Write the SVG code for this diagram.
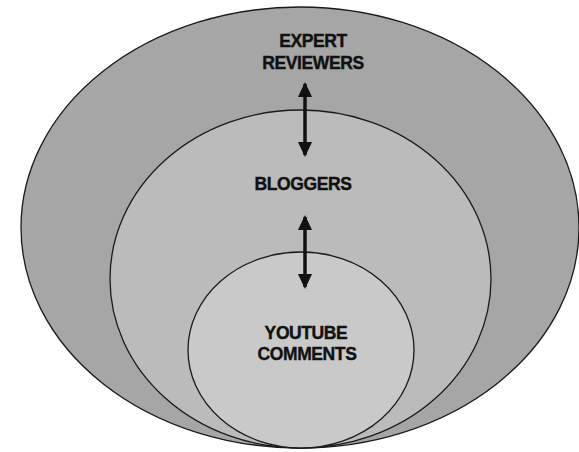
<svg xmlns="http://www.w3.org/2000/svg" width="579" height="452" viewBox="0 0 579 452">
  <style>
    .ring { stroke: #1a1a1a; stroke-width: 1.3; }
    .outer { fill: #a6a6a6; }
    .middle { fill: #bbbbbb; }
    .inner { fill: #c9c9c9; }
    .label { font-family: "Liberation Sans", Arial, sans-serif; font-weight: bold; font-size: 17.5px; fill: #111; stroke: #111; stroke-width: 0.4; text-anchor: middle; letter-spacing: -0.4px; }
    .link { stroke: #111; stroke-width: 3.5; fill: none; }
  </style>
  <defs>
    <marker id="head" viewBox="0 0 15 14" refX="13" refY="7" markerWidth="15" markerHeight="14" markerUnits="userSpaceOnUse" orient="auto-start-reverse">
      <path d="M0,0 L15,7 L0,14 Z" fill="#111"/>
    </marker>
  </defs>
  <rect width="579" height="452" fill="#ffffff"/>

  <g id="expert-reviewers">
    <ellipse class="ring outer" cx="300" cy="227.5" rx="279" ry="220.5"/>
    <text class="label" x="313" y="46.5">EXPERT</text>
    <text class="label" x="313" y="68.5">REVIEWERS</text>
  </g>

  <g id="bloggers">
    <ellipse class="ring middle" cx="300.5" cy="279" rx="190.5" ry="169"/>
    <text class="label" x="303" y="190">BLOGGERS</text>
  </g>

  <g id="youtube-comments">
    <ellipse class="ring inner" cx="301" cy="350" rx="113" ry="98"/>
    <text class="label" x="306" y="339">YOUTUBE</text>
    <text class="label" x="307" y="360">COMMENTS</text>
  </g>

  <g id="connectors">
    <line class="link" x1="305" y1="84" x2="305" y2="155" marker-start="url(#head)" marker-end="url(#head)"/>
    <line class="link" x1="305" y1="217" x2="305" y2="287" marker-start="url(#head)" marker-end="url(#head)"/>
  </g>
</svg>
